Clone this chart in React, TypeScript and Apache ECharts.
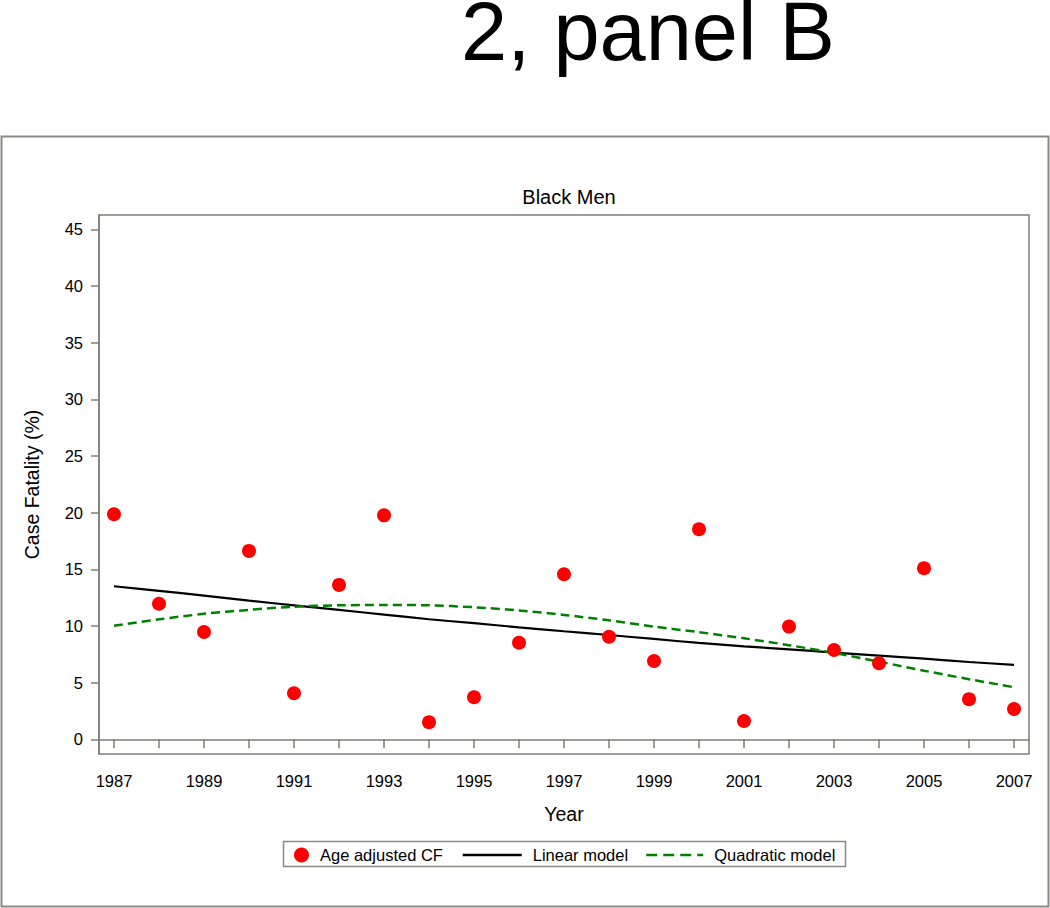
import React, { useEffect, useRef } from "react";
import * as echarts from "echarts";

const years = [1987, 1988, 1989, 1990, 1991, 1992, 1993, 1994, 1995, 1996, 1997, 1998, 1999, 2000, 2001, 2002, 2003, 2004, 2005, 2006, 2007];
const ageAdjustedCF = [19.85, 11.96, 9.47, 16.62, 4.06, 13.62, 19.76, 1.5, 3.71, 8.52, 14.56, 9.05, 6.91, 18.53, 1.61, 9.94, 7.88, 6.71, 15.09, 3.53, 2.67];
const linearModel = [13.5, 13.09, 12.68, 12.23, 11.82, 11.41, 11.0, 10.59, 10.24, 9.88, 9.53, 9.2, 8.85, 8.5, 8.2, 7.94, 7.65, 7.38, 7.11, 6.82, 6.56];
const quadraticModel = [10.02, 10.58, 11.07, 11.42, 11.7, 11.82, 11.85, 11.82, 11.65, 11.37, 10.97, 10.5, 9.94, 9.45, 8.91, 8.3, 7.62, 6.85, 6.05, 5.3, 4.59];
const xTickValues = years;
const xLabelValues = [1987, 1989, 1991, 1993, 1995, 1997, 1999, 2001, 2003, 2005, 2007];
const yTickValues = [0, 5, 10, 15, 20, 25, 30, 35, 40, 45];

const FONT = "'Liberation Sans', Arial, Helvetica, sans-serif";
const GREY = "#7d7d78";

export default function App() {
  const ref = useRef<HTMLDivElement>(null);
  useEffect(() => {
    if (!ref.current) return;
    const chart = echarts.init(ref.current, null, { renderer: "svg" });
    const pair = (vals: number[]) => years.map((y, i) => [y, vals[i]]);
    chart.setOption({
      animation: false,
      backgroundColor: "#ffffff",
      textStyle: { fontFamily: FONT },
      title: [
        {
          text: "Black Men",
          left: 564,
          top: 182,
          textAlign: "center",
          textStyle: { fontFamily: FONT, fontSize: 20, fontWeight: "normal", color: "#000" },
        },
      ],
      graphic: [
        {
          type: "text",
          x: 648,
          y: 31,
          style: {
            text: "2, panel B",
            fontFamily: FONT,
            fontSize: 83,
            lineHeight: 56,
            fill: "#000",
            textAlign: "center",
            textVerticalAlign: "middle",
            verticalAlign: "middle",
          },
        },
        {
          type: "rect",
          shape: { x: 1.5, y: 136.5, width: 1047, height: 770 },
          style: { fill: "none", stroke: "#8a8a84", lineWidth: 2 },
          silent: true,
        },
        {
          type: "rect",
          shape: { x: 283.5, y: 841.5, width: 562, height: 25 },
          style: { fill: "none", stroke: "#8a8a84", lineWidth: 1.5 },
          silent: true,
        },
      ],
      grid: {
        left: 99,
        top: 215,
        right: 21,
        bottom: 154,
        show: true,
        borderColor: GREY,
        borderWidth: 1.5,
      },
      xAxis: {
        type: "value",
        min: 1986.667,
        max: 2007.333,
        name: "Year",
        nameLocation: "middle",
        nameGap: 50,
        nameTextStyle: { fontFamily: FONT, fontSize: 19.5, color: "#000" },
        axisLine: { show: true, lineStyle: { color: GREY, width: 1.5 } },
        axisTick: { show: true, inside: false, length: 9, customValues: xTickValues, lineStyle: { color: GREY, width: 1.5 } },
        axisLabel: { customValues: xLabelValues, margin: 18, fontFamily: FONT, fontSize: 16.5, color: "#000", formatter: (v: number) => String(Math.round(v)) },
        splitLine: { show: false },
      },
      yAxis: {
        type: "value",
        min: -1.3,
        max: 46.26,
        name: "Case Fatality (%)",
        nameLocation: "middle",
        nameRotate: 90,
        nameGap: 57,
        nameTextStyle: { fontFamily: FONT, fontSize: 19.5, color: "#000" },
        axisLine: { show: true, lineStyle: { color: GREY, width: 1.5 } },
        axisTick: { show: true, inside: false, length: 8, customValues: yTickValues, lineStyle: { color: GREY, width: 1.5 } },
        axisLabel: { customValues: yTickValues, margin: 16, fontFamily: FONT, fontSize: 16.5, color: "#000", formatter: (v: number) => String(Math.round(v)) },
        splitLine: { show: false },
      },
      legend: [
        {
          data: ["Age adjusted CF"],
          left: 294,
          top: 846.5,
          padding: 0,
          itemWidth: 15,
          itemHeight: 15,
          textStyle: { fontFamily: FONT, fontSize: 16.5, color: "#000", padding: [0, 0, 0, 6] },
        },
        {
          data: ["Linear model"],
          left: 461.5,
          top: 846.5,
          padding: 0,
          itemWidth: 59,
          itemHeight: 15,
          itemStyle: { opacity: 0 },
          lineStyle: { width: 2.5, type: "solid", color: "#000", opacity: 1 },
          textStyle: { fontFamily: FONT, fontSize: 16.5, color: "#000", padding: [0, 0, 0, 6] },
        },
        {
          data: ["Quadratic model"],
          left: 645,
          top: 846.5,
          padding: 0,
          itemWidth: 57,
          itemHeight: 15,
          itemStyle: { opacity: 0 },
          lineStyle: { width: 2.5, type: [11, 6], color: "#008000", opacity: 1 },
          textStyle: { fontFamily: FONT, fontSize: 16.5, color: "#000", padding: [0, 0, 0, 6] },
        },
      ],
      series: [
        {
          name: "Linear model",
          type: "line",
          data: pair(linearModel),
          symbol: "none",
          smooth: 0.3,
          lineStyle: { color: "#000", width: 2.2 },
          itemStyle: { color: "#000" },
          z: 2,
        },
        {
          name: "Quadratic model",
          type: "line",
          data: pair(quadraticModel),
          symbol: "none",
          smooth: 0.3,
          lineStyle: { color: "#008000", width: 2.5, type: [9, 5] },
          itemStyle: { color: "#008000" },
          z: 3,
        },
        {
          name: "Age adjusted CF",
          type: "scatter",
          data: pair(ageAdjustedCF),
          symbol: "circle",
          symbolSize: 14,
          itemStyle: { color: "#ff0000", opacity: 1 },
          z: 4,
        },
      ],
    });
    return () => chart.dispose();
  }, []);
  return <div ref={ref} style={{ position: "absolute", left: 0, top: 0, width: 1050, height: 908 }} />;
}
